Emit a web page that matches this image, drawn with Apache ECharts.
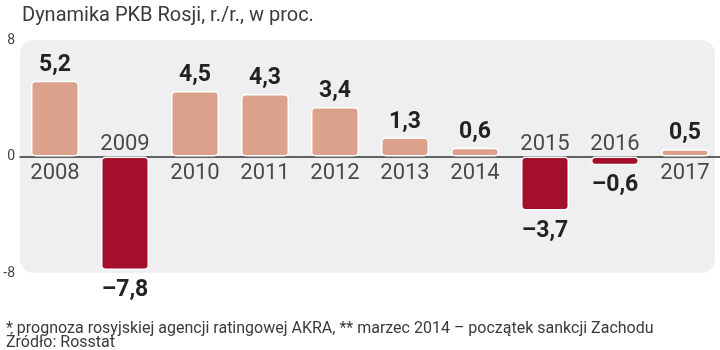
<!DOCTYPE html>
<html><head><meta charset="utf-8">
<script src="https://cdn.jsdelivr.net/npm/echarts@6/dist/echarts.min.js"></script>
<style>html,body{margin:0;padding:0;background:#fff}#c{width:720px;height:350px}</style>
</head><body><div id="c"></div>
<script>
const categories = ['2008','2009','2010','2011','2012','2013','2014','2015','2016','2017'];
const values = [5.2, -7.8, 4.5, 4.3, 3.4, 1.3, 0.6, -3.7, -0.6, 0.5];
const yTicks = [-8, 0, 8];
const titleText = 'Dynamika PKB Rosji, r./r., w proc.';
const noteText = '* prognoza rosyjskiej agencji ratingowej AKRA, ** marzec 2014 – początek sankcji Zachodu';
const sourceText = 'Źródło: Rosstat';

const POS = '#dca18b', NEG = '#a40f2b';
const fmt = v => (v < 0 ? '–' : '') + Math.abs(v).toFixed(1).replace('.', ',');

const chart = echarts.init(document.getElementById('c'));
chart.setOption({
  animation: false,
  textStyle: { fontFamily: 'Roboto' },
  title: [
    { text: titleText, left: 17, top: 1, textStyle: { fontSize: 20, fontWeight: 'normal', color: '#3a3a3a', fontFamily: 'Roboto' } },
    { text: noteText, left: 1, top: 316, textStyle: { fontSize: 16, fontWeight: 'normal', color: '#3a3a3a', fontFamily: 'Roboto' } },
    { text: sourceText, left: 1, top: 330, textStyle: { fontSize: 16, fontWeight: 'normal', color: '#3a3a3a', fontFamily: 'Roboto' } }
  ],
  graphic: [{ type: 'rect', z: -10, shape: { x: 20, y: 40, width: 695, height: 233, r: 14 }, style: { fill: '#efeff1' } }],
  grid: { left: 20, right: 0, top: 40, bottom: 77 },
  xAxis: {
    type: 'category', data: categories,
    axisLine: { onZero: true, lineStyle: { color: '#333', width: 1.5 } },
    axisTick: { show: false }, axisLabel: { show: false }
  },
  yAxis: {
    type: 'value', min: yTicks[0], max: yTicks[yTicks.length - 1], interval: 8,
    splitLine: { show: false }, axisLine: { show: false }, axisTick: { show: false },
    axisLabel: { margin: 5, fontSize: 14, color: '#444', formatter: v => String(v) }
  },
  series: [
    {
      type: 'bar', barWidth: 48, z: 3,
      data: values.map(v => ({
        value: v,
        itemStyle: { color: v >= 0 ? POS : NEG, borderColor: '#fff', borderWidth: 1.5, borderRadius: 4 },
        label: { show: true, position: v >= 0 ? 'top' : 'bottom', distance: v >= 0 ? 4 : 9 }
      })),
      label: { formatter: p => fmt(p.value), fontSize: 23, fontWeight: 'bold', color: '#222', fontFamily: 'Roboto' }
    },
    {
      type: 'scatter', symbolSize: 0, z: 4, silent: true,
      data: values.map((v, i) => ({
        value: 0,
        label: { show: true, position: v >= 0 ? 'bottom' : 'top', distance: v >= 0 ? 6 : 1 }
      })),
      label: { formatter: p => categories[p.dataIndex], fontSize: 22, color: '#1e1e1e', fontFamily: 'Roboto' }
    }
  ]
});
</script></body></html>
